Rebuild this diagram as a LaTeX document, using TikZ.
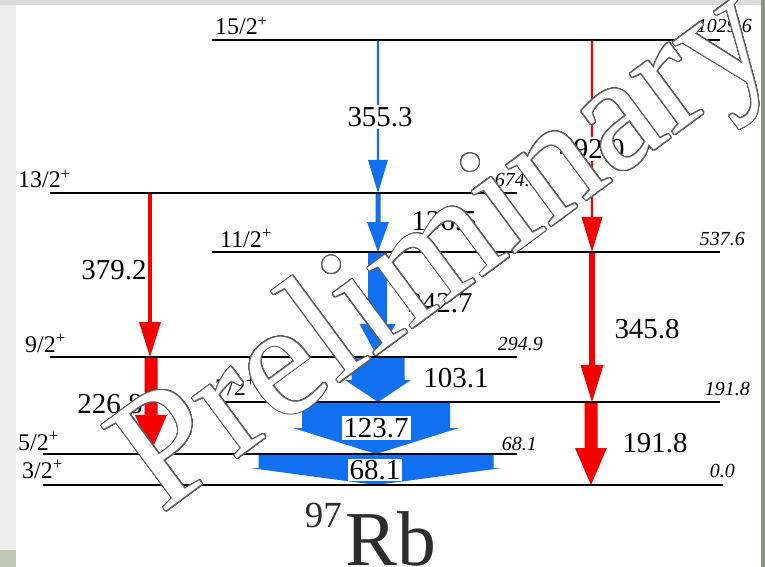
\documentclass[tikz,border=0pt]{standalone}
\usepackage{fontspec}
\setmainfont{Liberation Serif}
\usepackage{contour}
\contourlength{1bp}
\definecolor{ablue}{RGB}{16,112,240}
\definecolor{ared}{RGB}{245,0,0}
\definecolor{wmgray}{RGB}{95,95,95}
\definecolor{sidegray}{RGB}{238,238,238}
\definecolor{topgray}{RGB}{218,218,218}
\definecolor{sidegreen}{RGB}{138,150,128}
\definecolor{cornergreen}{RGB}{190,200,180}
\definecolor{nucl}{RGB}{45,45,45}
% x, ytop, ybottom, body half width, head half width, head length, colour
\newcommand\gtrans[7]{%
  \fill[#7] (#1-#4,#2) -- (#1+#4,#2) -- (#1+#4,#3-#6) -- (#1+#5,#3-#6) -- (#1,#3)
    -- (#1-#5,#3-#6) -- (#1-#4,#3-#6) -- cycle;}
\tikzset{
  lvl/.style={line width=2bp, black},
  spin/.style={font=\fontsize{24}{26}\selectfont, inner sep=0, anchor=base west},
  ener/.style={font=\fontsize{20}{22}\selectfont\itshape, inner sep=0, anchor=base east},
  glab/.style={font=\fontsize{29}{31}\selectfont, inner sep=0},
  boxlab/.style={glab, fill=white, inner sep=2bp},
}
\begin{document}
\begin{tikzpicture}[x=1bp, y=-1bp]
\useasboundingbox (0,0) rectangle (765,567);
% background
\fill[sidegray] (0,0) rectangle (765,567);
\fill[topgray] (0,0) rectangle (765,5);
\fill[sidegreen] (761,0) rectangle (765,567);
\fill[cornergreen] (0,550) rectangle (16,567);
\fill[white] (16,5) rectangle (761,567);

% transitions (drawn below the level lines)
\gtrans{378}{40}{193}{1.2}{10}{33}{ablue}
\gtrans{378}{193}{252}{2.5}{11}{30}{ablue}
\gtrans{377.5}{252}{357}{9.5}{18}{33}{ablue}
\gtrans{378}{357}{402}{26.5}{33}{22}{ablue}
\gtrans{376}{402}{454}{74}{83}{26}{ablue}
\gtrans{376}{454}{485}{117.5}{126}{17}{ablue}
\gtrans{150}{193}{357}{1.8}{11}{35}{ared}
\gtrans{151}{357}{452}{6.5}{16}{37}{ared}
\gtrans{592}{40}{252}{1.1}{10.5}{35}{ared}
\gtrans{592}{252}{402}{3}{11.5}{37}{ared}
\gtrans{591}{402}{485}{6.5}{16}{37}{ared}

% levels
\coordinate (l15a) at (212,40);  \coordinate (l15b) at (720,40);
\coordinate (l13a) at (50,193);  \coordinate (l13b) at (517,193);
\coordinate (l11a) at (212,252); \coordinate (l11b) at (720,252);
\coordinate (l9a) at (50,357);   \coordinate (l9b) at (517,357);
\coordinate (l7a) at (212,402);  \coordinate (l7b) at (720,402);
\coordinate (l5a) at (43,454);   \coordinate (l5b) at (517,454);
\coordinate (l3a) at (43,485);   \coordinate (l3b) at (723,485);
\draw[lvl] (l15a) -- (l15b);
\draw[lvl] (l13a) -- (l13b);
\draw[lvl] (l11a) -- (l11b);
\draw[lvl] (l9a) -- (l9b);
\draw[lvl] (l7a) -- (l7b);
\draw[lvl] (l5a) -- (l5b);
\draw[lvl] (l3a) -- (l3b);

% spins
\node[spin] (s15) at (215,35) {15/2\textsuperscript{+}};
\node[spin] (s13) at (18,188) {13/2\textsuperscript{+}};
\node[spin] (s11) at (220,247) {11/2\textsuperscript{+}};
\node[spin] (s9) at (25,352) {9/2\textsuperscript{+}};
\node[spin] (s7) at (215,395) {7/2\textsuperscript{+}};
\node[spin] (s5) at (18,450) {5/2\textsuperscript{+}};
\node[spin] (s3) at (22,478) {3/2\textsuperscript{+}};

% energies
\node[ener] (e15) at (752,33) {1029.6};
\node[ener] (e13) at (540,187) {674.1};
\node[ener] (e11) at (745,245) {537.6};
\node[ener] (e9) at (543,350) {294.9};
\node[ener] (e7) at (750,395) {191.8};
\node[ener] (e5) at (537,450) {68.1};
\node[ener] (e3) at (735,477) {0.0};

% gamma labels
\node[boxlab] (g3553) at (380,117) {355.3};
\node[boxlab] (g4920) at (592,149) {492.0};
\node[glab] (g1365) at (444,221) {136.5};
\node[glab] (g2427) at (440,303) {242.7};
\node[glab] (g1031) at (456,378) {103.1};
\node[boxlab] (g1237) at (376,428) {123.7};
\node[boxlab, inner ysep=1bp] (g681) at (375,470) {68.1};
\node[glab] (g3792) at (114,270) {379.2};
\node[glab] (g2268) at (110,404) {226.8};
\node[glab] (g3458) at (647,329) {345.8};
\node[glab] (g1918) at (655,443) {191.8};

% nucleus
\node[inner sep=0, anchor=base east, text=nucl, font=\fontsize{37}{37}\selectfont] (mass) at (342,527) {97};
\node[inner sep=0, anchor=base west, text=nucl, font=\fontsize{78}{78}\selectfont] (elem) at (345,565) {Rb};

% watermark
\node[rotate=36.5, inner sep=0, font=\fontsize{164}{164}\selectfont] (wm) at (449,254)
  {\color{white}\contour[48]{wmgray}{Preliminary}};
\end{tikzpicture}
\end{document}
